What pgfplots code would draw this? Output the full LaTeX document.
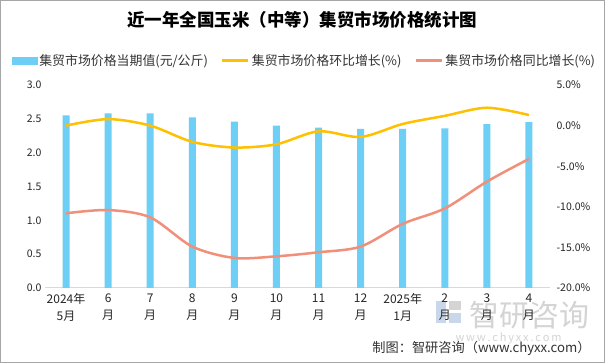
\documentclass[border=0pt]{standalone}
\usepackage{fontspec}
\setmainfont{Noto Sans CJK SC}
\usepackage{pgfplots}
\pgfplotsset{compat=1.18}
\definecolor{barblue}{HTML}{6DCFF6}
\definecolor{lineyellow}{HTML}{FFC000}
\definecolor{linesalmon}{HTML}{F0907A}
\definecolor{axisgray}{HTML}{D9D9D9}
\definecolor{wm}{HTML}{D4D4D4}
\definecolor{wmblue}{HTML}{C9D7EA}
\begin{document}
\begin{tikzpicture}[x=1pt,y=1pt]
\fill[white] (0pt,0pt) rectangle (605pt,363pt);
\draw[gray!70, line width=1.2pt] (0.6pt,0.6pt) rectangle (604.4pt,362.4pt);
\node[font=\fontsize{17.5}{20}\selectfont\bfseries] at (302pt,343pt) {近一年全国玉米（中等）集贸市场价格统计图};
% watermark
\fill[wmblue] (436pt,40pt) rectangle (446pt,62pt);
\fill[wmblue] (449pt,40pt) rectangle (461pt,50pt);
\fill[wm] (449pt,53pt) rectangle (461pt,62pt);
\node[font=\fontsize{30}{32}\selectfont, text=wm, anchor=west] at (466pt,48pt) {智研咨询};
\node[font=\fontsize{11}{12}\selectfont, text=wm, anchor=west] at (452pt,25pt) {w\,w\,w\,.\,c\,h\,y\,x\,x\,.\,c\,o\,m};
\node[font=\fontsize{13.2}{15}\selectfont, text=black!80, anchor=east] at (594pt,15pt) {制图：智研咨询（www.chyxx.com）};
\begin{axis}[
  at={(45pt,75pt)}, anchor=south west,
  scale only axis, width=505pt, height=203pt,
  xmin=-0.5, xmax=11.5, ymin=0, ymax=3,
  axis x line*=bottom, axis y line*=left,
  y axis line style={draw=none},
  x axis line style={draw=axisgray, line width=1pt},
  major tick length=0pt,
  xtick={0,...,11},
  xticklabels={{2024年\\5月},{6\\月},{7\\月},{8\\月},{9\\月},{10\\月},{11\\月},{12\\月},{2025年\\1月},{2\\月},{3\\月},{4\\月}},
  xticklabel style={align=center, font=\fontsize{12}{17}\selectfont, text=black!85, yshift=-2pt},
  ytick={0,0.5,...,3},
  yticklabel style={font=\fontsize{10.5}{12}\selectfont, text=black!85},
  yticklabel={\pgfmathprintnumber[fixed,fixed zerofill,precision=1,assume math mode=true]{\tick}},
  ybar, bar width=7pt, bar shift=0pt,
]
\addplot[fill=barblue, draw=none] coordinates {
(0,2.55) (1,2.58) (2,2.58) (3,2.52) (4,2.46) (5,2.40) (6,2.37) (7,2.35) (8,2.35) (9,2.36) (10,2.42) (11,2.45)};
\end{axis}
\begin{axis}[
  at={(45pt,75pt)}, anchor=south west,
  scale only axis, width=505pt, height=203pt,
  xmin=-0.5, xmax=11.5, ymin=-20, ymax=5,
  axis x line=none, axis y line*=right,
  y axis line style={draw=none},
  major tick length=0pt,
  ytick={-20,-15,...,5},
  yticklabel style={font=\fontsize{10.5}{12}\selectfont, text=black!85, xshift=3pt},
  yticklabel={\pgfmathprintnumber[fixed,fixed zerofill,precision=1,assume math mode=true]{\tick}\%},
  legend style={at={(0.5,1)}, anchor=south, xshift=7pt, yshift=14pt, draw=none, fill=none,
    font=\fontsize{12.9}{14}\selectfont, text=black!80,
    /tikz/every even column/.append style={column sep=11pt}},
  legend columns=3,
]
\addlegendimage{legend image code/.code={\fill[barblue] (0pt,-3.5pt) rectangle (25pt,3.5pt);}}
\addlegendentry{集贸市场价格当期值(元/公斤)}
\addplot[lineyellow, line width=2.5pt, smooth, tension=0.5,
  legend image code/.code={\draw[lineyellow, line width=3pt] (0pt,0pt) -- (26pt,0pt);}] coordinates {
(0,0.0) (1,0.8) (2,0.0) (3,-2.0) (4,-2.7) (5,-2.3) (6,-0.7) (7,-1.4) (8,0.2) (9,1.2) (10,2.2) (11,1.3)};
\addlegendentry{集贸市场价格环比增长(\%)}
\addplot[linesalmon, line width=2.5pt, smooth, tension=0.5,
  legend image code/.code={\draw[linesalmon, line width=3pt] (0pt,0pt) -- (26pt,0pt);}] coordinates {
(0,-10.8) (1,-10.4) (2,-11.3) (3,-14.9) (4,-16.3) (5,-16.1) (6,-15.6) (7,-14.9) (8,-12.1) (9,-10.2) (10,-6.9) (11,-4.1)};
\addlegendentry{集贸市场价格同比增长(\%)}
\end{axis}
\end{tikzpicture}
\end{document}
